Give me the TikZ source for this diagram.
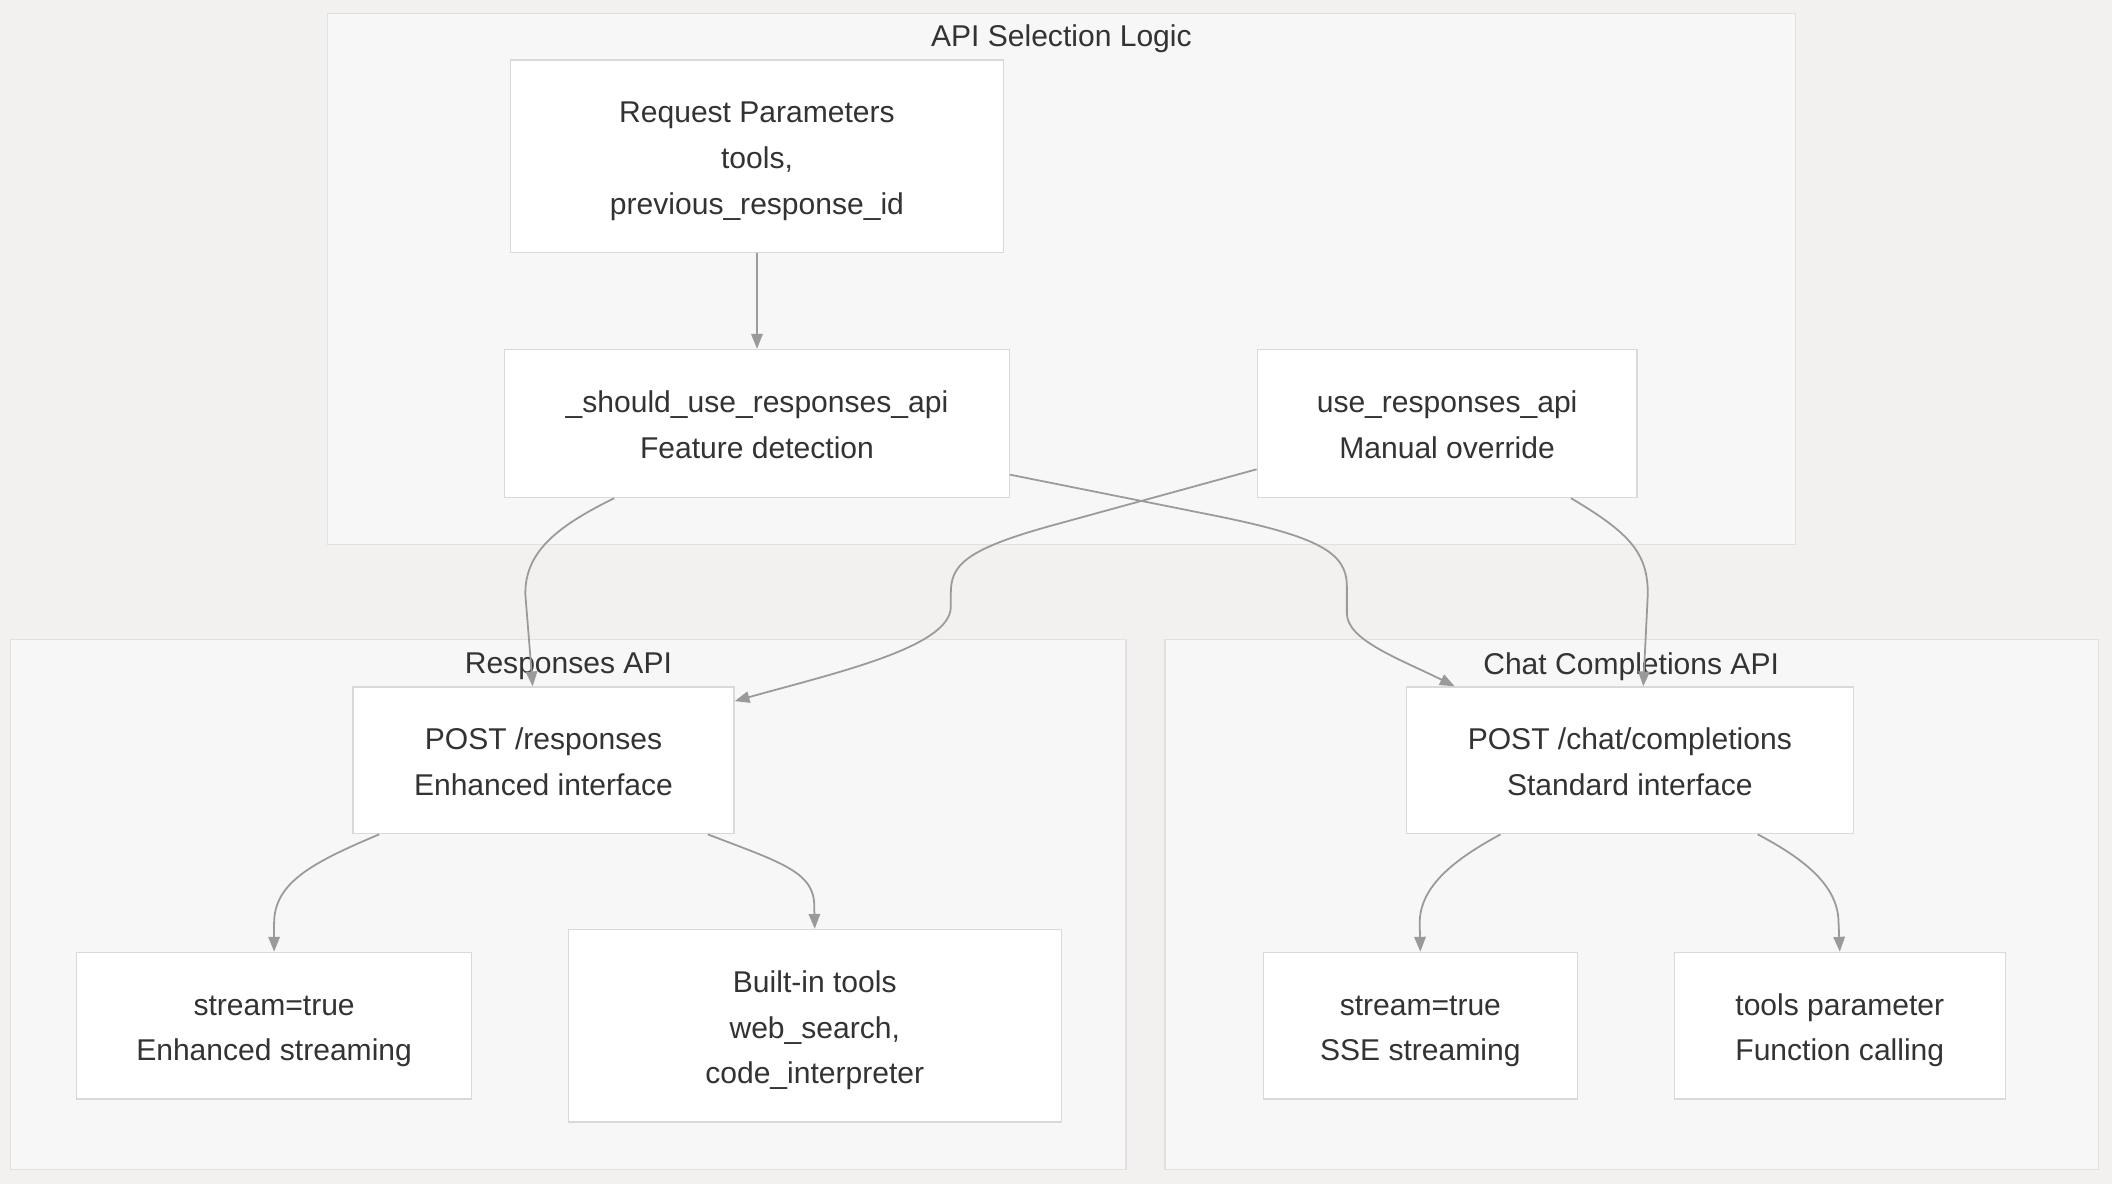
\documentclass[tikz,border=0pt]{standalone}
\usepackage{fontspec}
\setmainfont{Liberation Sans}
\usetikzlibrary{arrows.meta,positioning,calc}

\definecolor{bgcol}{HTML}{F2F1EF}
\definecolor{grpfill}{HTML}{F7F7F7}
\definecolor{grpline}{HTML}{E0E0E0}
\definecolor{boxline}{HTML}{D9D9D9}
\definecolor{wirecol}{HTML}{9A9A9A}
\definecolor{txt}{HTML}{333333}
\newcommand{\hstrut}{\rule{0pt}{14.4pt}}

\begin{document}
\begin{tikzpicture}[x=0.02cm,y=-0.02cm,>={Triangle[length=0.22cm,width=0.17cm]},
    every node/.style={font=\fontsize{12.7}{19.4}\selectfont,text=txt},
    box/.style={draw=boxline,fill=white,line width=0.55pt,align=center,inner sep=0pt,
        execute at end node={\rule[-4pt]{0pt}{4pt}}},
    group/.style={draw=grpline,fill=grpfill,line width=0.55pt},
    wire/.style={->,draw=wirecol,line width=0.75pt}]
        %\tikzstyle{every node}=[font=\small]

        \fill[bgcol] (0,0) rectangle (1568,879);

        % subgraphs
        \draw[group] (243,10) rectangle (1333,404);
        \draw[group] (8,475) rectangle (836,868);
        \draw[group] (865,475) rectangle (1558,868);
        \node (tsel)  at (788,29)  {API Selection Logic};
        \node (tresp) at (422,495) {Responses API};
        \node (tchat) at (1211,495) {Chat Completions API};

        \node[box,minimum width=7.32cm,minimum height=2.86cm] (req) at (562,116)
            {\hstrut Request Parameters\\tools,\\previous\_response\_id};
        \node[box,minimum width=7.5cm,minimum height=2.2cm] (should) [below=1.42cm of req]
            {\hstrut\_should\_use\_responses\_api\\Feature detection};
        \node[box,minimum width=5.64cm,minimum height=2.2cm] (use) [right=3.66cm of should]
            {\hstrut use\_responses\_api\\Manual override};

        \node[box,minimum width=5.66cm,minimum height=2.18cm] (resp) at (403.5,564.5)
            {\hstrut POST /responses\\Enhanced interface};
        \node[box,minimum width=5.86cm,minimum height=2.18cm] (enh) at (203.5,761.5)
            {\hstrut stream=true\\Enhanced streaming};
        \node[box,minimum width=7.32cm,minimum height=2.86cm] (builtin) [right=1.42cm of enh]
            {\hstrut Built-in tools\\web\_search,\\code\_interpreter};

        \node[box,minimum width=6.64cm,minimum height=2.18cm] (chat) at (1210,564.5)
            {\hstrut POST /chat/completions\\Standard interface};
        \node[box,minimum width=4.66cm,minimum height=2.18cm] (sse) at (1054.5,761.5)
            {\hstrut stream=true\\SSE streaming};
        \node[box,minimum width=4.92cm,minimum height=2.18cm] (tpar) [right=1.42cm of sse]
            {\hstrut tools parameter\\Function calling};

        \draw[wire] (req) -- (should);
        \draw[wire] ($(should.south)+(-106,0)$) .. controls +(-45,22) and +(0,-30) .. ++(-66,71)
            -- ($(resp.north)+(-8,0)$);
        \draw[wire] ($(should.east)+(0,38)$) -- ++(150,30) .. controls +(80,16) and +(0,-25) .. ++(100,53)
            -- ++(0,20) .. controls +(0,20) and +(-40,-20) .. ($(chat.north)+(-130,0)$);
        \draw[wire] ($(use.west)+(0,34)$) -- ++(-153,42) .. controls +(-65,18) and +(0,-20) .. ++(-74,50)
            -- ++(0,10) .. controls +(0,30) and +(75,-21) .. ($(resp.north east)+(0,11)$);
        \draw[wire] ($(use.south)+(92,0)$) .. controls +(44,26) and +(0,-30) .. ++(57,71)
            -- ($(chat.north)+(10,0)$);
        \draw[wire] ($(resp.south)+(-122,0)$) .. controls +(-50,21) and +(0,-30) .. ++(-78,66) -- (enh.north);
        \draw[wire] ($(resp.south)+(122,0)$) .. controls +(55,21) and +(0,-25) .. ++(79,53) -- (builtin.north);
        \draw[wire] ($(chat.south)+(-96,0)$) .. controls +(-39,21) and +(0,-25) .. ++(-60,66) -- (sse.north);
        \draw[wire] ($(chat.south)+(95,0)$) .. controls +(40,21) and +(0,-25) .. ++(60,66) -- (tpar.north);
    \end{tikzpicture}
\end{document}
